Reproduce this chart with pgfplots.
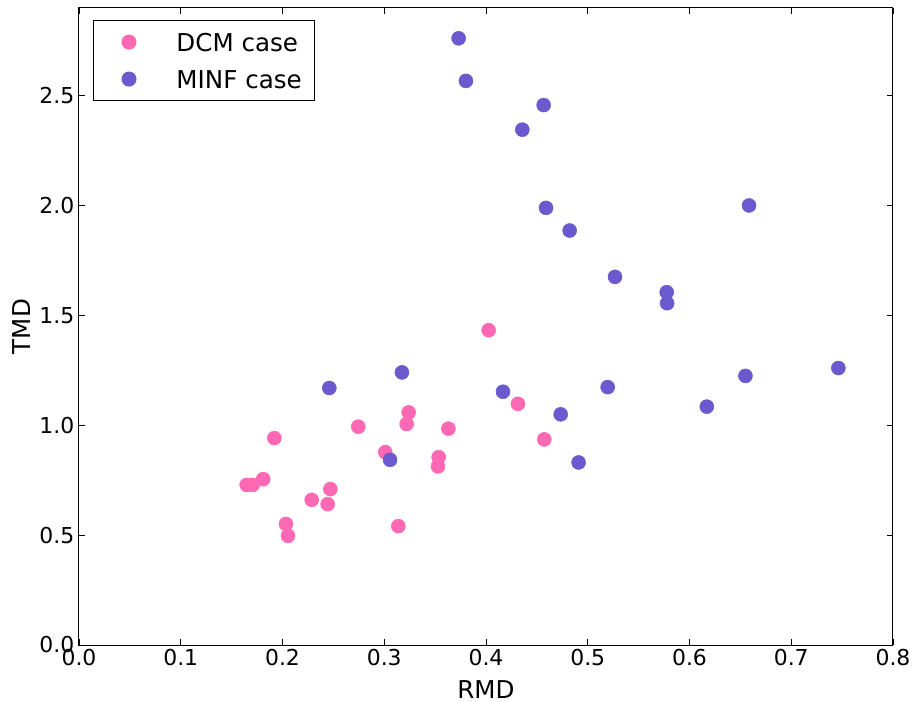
\documentclass[border=0pt]{standalone}
\usepackage{pgfplots}
\pgfplotsset{compat=1.18}
\usepackage{fontspec}
\setmainfont{DejaVu Sans}
\definecolor{dcm}{RGB}{255,105,180}
\definecolor{minf}{RGB}{106,90,205}
\begin{document}
\begin{tikzpicture}
\path[use as bounding box] (-59.25bp,-42.75bp) rectangle (624.75bp,483.75bp);
\begin{axis}[
  at={(0,0)}, anchor=south west,
  scale only axis,
  width=610.5bp, height=477.75bp,
  xmin=0, xmax=0.8, ymin=0, ymax=2.9,
  xtick={0,0.1,...,0.8},
  ytick={0,0.5,...,2.5},
  xticklabel style={/pgf/number format/fixed,/pgf/number format/fixed zerofill,/pgf/number format/precision=1},
  yticklabel style={/pgf/number format/fixed,/pgf/number format/fixed zerofill,/pgf/number format/precision=1},
  /pgf/number format/assume math mode=true,
  tick align=inside,
  xtick pos=both, ytick pos=both,
  major tick length=4.5bp,
  axis line style={line width=0.75bp},
  tick style={line width=0.6bp, black},
  ticklabel style={font=\fontsize{16.5}{19}\selectfont},
  label style={font=\fontsize{18.5}{22}\selectfont},
  xlabel={RMD}, ylabel={TMD},
  xlabel style={inner sep=0pt, text depth=0pt, yshift=-7pt},
  ylabel style={yshift=0pt},
  legend style={at={(0.0172,0.981)}, anchor=north west, draw=black, line width=0.75bp,
    font=\fontsize{18.5}{22}\selectfont, inner xsep=9.75bp, inner ysep=2.25bp,
    row sep=0pt, column sep=9.5bp,
    nodes={inner xsep=0pt, inner ysep=4.9bp, text height=16pt, text depth=2pt}},
  legend cell align=left,
  legend image code/.code={\fill[#1] (16.5bp,0) circle (5.25bp); \path (0pt,0) (42.25bp,0);},
]
\addplot[only marks, mark=*, mark size=5.25bp, color=dcm, fill=dcm] coordinates {
(0.192,0.942) (0.2745,0.994) (0.324,1.059) (0.322,1.006) (0.363,0.985)
(0.301,0.878) (0.3535,0.855) (0.3528,0.813) (0.1648,0.729) (0.1707,0.729)
(0.181,0.755) (0.247,0.710) (0.2287,0.661) (0.2444,0.641) (0.2034,0.551)
(0.2054,0.497) (0.3138,0.541) (0.4026,1.433) (0.4314,1.098) (0.4573,0.936)
};
\addlegendentry{DCM case}
\addplot[only marks, mark=*, mark size=5.25bp, color=minf, fill=minf] coordinates {
(0.3057,0.843) (0.3174,1.241) (0.246,1.170) (0.4167,1.153) (0.4734,1.050)
(0.491,0.831) (0.3731,2.762) (0.3803,2.568) (0.4567,2.458) (0.4357,2.346)
(0.459,1.990) (0.4822,1.887) (0.5268,1.676) (0.5776,1.606) (0.578,1.556)
(0.6585,2.001) (0.5196,1.174) (0.655,1.225) (0.7463,1.261) (0.617,1.085)
};
\addlegendentry{MINF case}
\end{axis}
\end{tikzpicture}
\end{document}
